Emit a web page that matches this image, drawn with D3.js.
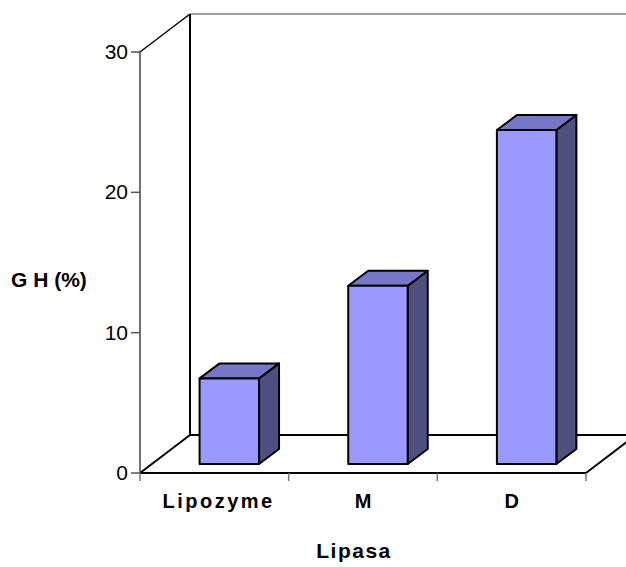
<!DOCTYPE html>
<html><head><meta charset="utf-8">
<script src="https://cdn.jsdelivr.net/npm/d3@7"></script>
<style>body{margin:0;background:#fff}svg{display:block}</style>
</head><body>
<script>
const categories = ["Lipozyme", "M", "D"];
const values = [6.1, 12.7, 23.8];
const yTicks = [0, 10, 20, 30];
const yTitle = "G H (%)";
const xTitle = "Lipasa";

const W = 626, H = 567;
const svg = d3.select("body").append("svg").attr("width", W).attr("height", H);
const font = "Liberation Sans, Arial, sans-serif";

const x = d3.scaleBand().domain(categories).range([140, 586]).padding(0);
const y = d3.scaleLinear().domain([0, 30]).range([473, 52]);
const DX = 50, DY = -38;          // wall depth
const fdx = 12, fdy = -9;         // bar front offset
const bdx = 20, bdy = -15;        // bar depth

const y0 = y(0), yTop = y(30), xL = x.range()[0], xR = x.range()[1];

// back wall and floor
const g = svg.append("g").attr("fill", "none");
g.append("line").attr("x1", xL + DX).attr("y1", yTop + DY).attr("x2", W).attr("y2", yTop + DY).attr("stroke", "#808080").attr("stroke-width", 1.5);
g.append("line").attr("x1", xL + DX).attr("y1", yTop + DY).attr("x2", xL + DX).attr("y2", y0 + DY).attr("stroke", "#000").attr("stroke-width", 2);
g.append("line").attr("x1", xL + DX).attr("y1", y0 + DY).attr("x2", W).attr("y2", y0 + DY).attr("stroke", "#000").attr("stroke-width", 2);
g.append("line").attr("x1", xL).attr("y1", yTop).attr("x2", xL + DX).attr("y2", yTop + DY).attr("stroke", "#000").attr("stroke-width", 1.5);
g.append("line").attr("x1", xL).attr("y1", y0).attr("x2", xL + DX).attr("y2", y0 + DY).attr("stroke", "#000").attr("stroke-width", 2);
g.append("line").attr("x1", xR).attr("y1", y0).attr("x2", xR + DX).attr("y2", y0 + DY).attr("stroke", "#000").attr("stroke-width", 2);
g.append("line").attr("x1", xL).attr("y1", y0).attr("x2", xR).attr("y2", y0).attr("stroke", "#000").attr("stroke-width", 2);
g.append("line").attr("x1", xL).attr("y1", yTop).attr("x2", xL).attr("y2", y0).attr("stroke", "#404040").attr("stroke-width", 1.5);

// y ticks
const yt = svg.append("g");
yTicks.forEach(t => {
  yt.append("line").attr("x1", xL - 9).attr("x2", xL).attr("y1", y(t)).attr("y2", y(t)).attr("stroke", "#555").attr("stroke-width", 1.5);
  yt.append("text").attr("x", xL - 12).attr("y", y(t)).attr("dy", "0.33em").attr("text-anchor", "end")
    .attr("font-family", font).attr("font-size", 21).attr("fill", "#000").text(t);
});

// x ticks
const xt = svg.append("g");
const bounds = categories.map(c => x(c)).concat([xR]);
bounds.forEach(b => {
  xt.append("line").attr("x1", b).attr("x2", b).attr("y1", y0).attr("y2", y0 + 8).attr("stroke", "#777").attr("stroke-width", 1.5);
});
categories.forEach((c, i) => {
  const ls = c.length > 1 ? 2.5 : 0;
  const off = c.length > 1 ? 3 + ls / 2 : 0;
  xt.append("text").attr("x", x(c) + x.bandwidth() / 2 + off).attr("y", 508).attr("text-anchor", "middle")
    .attr("letter-spacing", ls)
    .attr("font-family", font).attr("font-size", 20).attr("font-weight", "bold").text(c);
});

// bars
const bw = x.bandwidth() * 0.4;
const bars = svg.append("g").attr("stroke", "#000").attr("stroke-width", 2).attr("stroke-linejoin", "round");
categories.forEach((c, i) => {
  const x0 = x(c) + x.bandwidth() * 0.32 + fdx;
  const x1 = x0 + bw;
  const yb = y(0) + fdy, yt2 = y(values[i]) + fdy;
  bars.append("path").attr("d", `M${x1},${yt2}L${x1 + bdx},${yt2 + bdy}L${x1 + bdx},${yb + bdy}L${x1},${yb}Z`).attr("fill", "#4f4f80");
  bars.append("path").attr("d", `M${x0},${yt2}L${x0 + bdx},${yt2 + bdy}L${x1 + bdx},${yt2 + bdy}L${x1},${yt2}Z`).attr("fill", "#7777c8");
  bars.append("rect").attr("x", x0).attr("y", yt2).attr("width", bw).attr("height", yb - yt2).attr("fill", "#9999ff");
});

// titles
svg.append("text").attr("x", 11).attr("y", 287).attr("font-family", font).attr("font-size", 21).attr("font-weight", "bold").text(yTitle);
svg.append("text").attr("x", 354).attr("y", 558).attr("text-anchor", "middle").attr("letter-spacing", 1.5)
  .attr("font-family", font).attr("font-size", 21).attr("font-weight", "bold").text(xTitle);
</script>
</body></html>
